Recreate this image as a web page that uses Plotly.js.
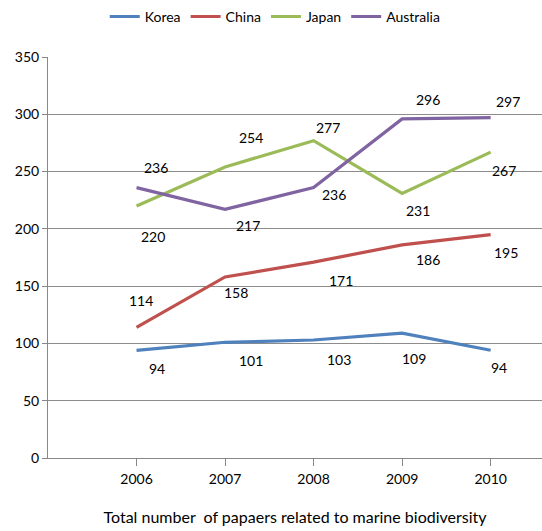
<!DOCTYPE html>
<html>
<head>
<meta charset="utf-8">
<script src="https://cdn.plot.ly/plotly-3.0.1.min.js"></script>
<style>
  html, body { margin: 0; padding: 0; background: #fff; }
  #chart { width: 542px; height: 531px; }
</style>
</head>
<body>
<div id="chart"></div>
<script>
// Papers related to marine biodiversity, by country and year
const years = ["2006", "2007", "2008", "2009", "2010"];
const korea = [94, 101, 103, 109, 94];
const china = [114, 158, 171, 186, 195];
const japan = [220, 254, 277, 231, 267];
const australia = [236, 217, 236, 296, 297];

const seriesNames = ["Korea", "China", "Japan", "Australia"];
const seriesValues = [korea, china, japan, australia];
const seriesColors = ["#4F81BD", "#C0504D", "#9BBB59", "#8064A2"];

// Pixel offsets [dx, dy] of each value label from its point
const labelShift = {
  Korea:     [[20, -18], [26, -18], [25, -20], [12, -25], [8, -17]],
  China:     [[4, 27], [11, -16], [27, -18], [26, -15], [15, -18]],
  Japan:     [[16, -31], [26, 29], [14, 13], [16, -17], [13, -18]],
  Australia: [[19, 20], [23, -16], [20, -7], [26, 19], [17, 16]]
};

const FONT = "Lato, 'Open Sans', sans-serif";

const traces = seriesNames.map((name, i) => ({
  type: "scatter",
  mode: "lines",
  name: name,
  x: years,
  y: seriesValues[i],
  line: { color: seriesColors[i], width: 3.2 },
  hoverinfo: "x+y+name"
}));

const annotations = [];
seriesNames.forEach((name, i) => {
  seriesValues[i].forEach((v, j) => {
    annotations.push({
      x: j,
      y: v,
      xref: "x",
      yref: "y",
      text: String(v),
      showarrow: false,
      xanchor: "center",
      yanchor: "middle",
      xshift: labelShift[name][j][0],
      yshift: labelShift[name][j][1],
      font: { family: FONT, size: 14, color: "#000" }
    });
  });
});

const layout = {
  width: 542,
  height: 531,
  margin: { l: 48, r: 0, t: 57, b: 73, autoexpand: false },
  paper_bgcolor: "#fff",
  plot_bgcolor: "#fff",
  font: { family: FONT, size: 14, color: "#000" },
  showlegend: true,
  legend: {
    orientation: "h",
    x: 0.46,
    xanchor: "center",
    y: 1.1,
    yanchor: "middle",
    font: { family: FONT, size: 14, color: "#000" },
    itemwidth: 30
  },
  xaxis: {
    type: "category",
    range: [-1, 4.58],
    showgrid: false,
    showline: true,
    linecolor: "#888",
    linewidth: 1,
    ticks: "outside",
    ticklen: 7,
    tickcolor: "#888",
    ticklabelstandoff: 1,
    tickfont: { family: FONT, size: 14, color: "#000" },
    zeroline: false,
    title: {
      text: "Total number  of papaers related to marine biodiversity",
      font: { family: FONT, size: 16, color: "#000" },
      standoff: 26
    }
  },
  yaxis: {
    range: [0, 350],
    dtick: 50,
    showgrid: true,
    gridcolor: "#8c8c8c",
    gridwidth: 1,
    showline: true,
    linecolor: "#888",
    linewidth: 1,
    ticks: "outside",
    ticklen: 5,
    tickcolor: "#888",
    zeroline: false,
    tickfont: { family: FONT, size: 14, color: "#000" }
  },
  annotations: annotations
};

Plotly.newPlot("chart", traces, layout, { displayModeBar: false });
</script>
</body>
</html>
